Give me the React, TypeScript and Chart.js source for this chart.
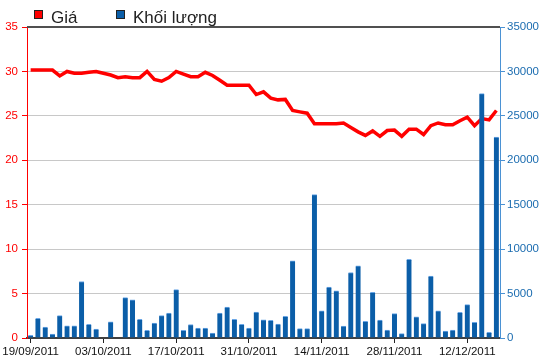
import React, { useEffect, useRef } from "react";
import { Chart, registerables } from "chart.js";

Chart.register(...registerables);

const dates: string[] = [
  "19/09/2011", "20/09/2011", "21/09/2011", "22/09/2011", "23/09/2011",
  "26/09/2011", "27/09/2011", "28/09/2011", "29/09/2011", "30/09/2011",
  "03/10/2011", "04/10/2011", "05/10/2011", "06/10/2011", "07/10/2011",
  "10/10/2011", "11/10/2011", "12/10/2011", "13/10/2011", "14/10/2011",
  "17/10/2011", "18/10/2011", "19/10/2011", "20/10/2011", "21/10/2011",
  "24/10/2011", "25/10/2011", "26/10/2011", "27/10/2011", "28/10/2011",
  "31/10/2011", "01/11/2011", "02/11/2011", "03/11/2011", "04/11/2011",
  "07/11/2011", "08/11/2011", "09/11/2011", "10/11/2011", "11/11/2011",
  "14/11/2011", "15/11/2011", "16/11/2011", "17/11/2011", "18/11/2011",
  "21/11/2011", "22/11/2011", "23/11/2011", "24/11/2011", "25/11/2011",
  "28/11/2011", "29/11/2011", "30/11/2011", "01/12/2011", "02/12/2011",
  "05/12/2011", "06/12/2011", "07/12/2011", "08/12/2011", "09/12/2011",
  "12/12/2011", "13/12/2011", "14/12/2011", "15/12/2011", "16/12/2011",
];

const prices: number[] = [
  30.15, 30.15, 30.15, 30.15, 29.5, 30.0, 29.8, 29.8, 29.9, 30.0,
  29.8, 29.6, 29.3, 29.4, 29.3, 29.3, 30.0, 29.1, 28.9, 29.3,
  30.0, 29.7, 29.4, 29.4, 29.9, 29.55, 29.0, 28.45, 28.45, 28.45,
  28.45, 27.4, 27.7, 27.0, 26.8, 26.85, 25.6, 25.45, 25.3, 24.1,
  24.1, 24.1, 24.1, 24.2, 23.7, 23.2, 22.8, 23.3, 22.7, 23.35,
  23.4, 22.7, 23.5, 23.5, 22.9, 23.9, 24.2, 24.0, 24.0, 24.45,
  24.85, 23.9, 24.7, 24.55, 25.6,
];

const volumes: (number | null)[] = [
  300, 2220, 1220, 440, 2520, 1370, 1370, 6360, 1550, 1000,
  null, 1810, null, 4550, 4290, 2110, 850, 1670, 2520, 2810,
  5440, 850, 1520, 1110, 1110, 560, 2810, 3480, 2110, 1550,
  1110, 2920, 2050, 2000, 1580, 2440, 8690, 1050, 1050, 16130,
  3050, 5720, 5300, 1350, 7370, 8120, 1880, 5150, 2030, 900,
  2750, 490, 8840, 2370, 1620, 6960, 3050, 790, 900, 2900,
  3760, 1770, 27500, 640, 22600,
];

const seriesNames = ["Giá", "Khối lượng"];
const priceMax = 35;
const priceStep = 5;
const volumeMax = 35000;
const volumeStep = 5000;
const labelEvery = 10;

const FONT = "'Liberation Sans', Arial, sans-serif";
const RED = "#ff0000";
const BLUE = "#0b5ea8";

const framePlugin = {
  id: "framePlugin",
  afterDraw(chart: any) {
    const { ctx, chartArea } = chart;
    ctx.save();
    // top border
    ctx.strokeStyle = "#505050";
    ctx.lineWidth = 2;
    ctx.beginPath();
    ctx.moveTo(chartArea.left, chartArea.top);
    ctx.lineTo(chartArea.right, chartArea.top);
    ctx.stroke();
    // legend
    const xs = [34, 116];
    ctx.font = `17px ${FONT}`;
    ctx.textBaseline = "alphabetic";
    ctx.textAlign = "left";
    chart.data.datasets.forEach((ds: any, i: number) => {
      const x = xs[i];
      ctx.fillStyle = ds.legendColor;
      ctx.fillRect(x, 10, 8, 8);
      ctx.strokeStyle = "#222";
      ctx.lineWidth = 1;
      ctx.strokeRect(x + 0.5, 10.5, 8, 8);
      ctx.fillStyle = "#222";
      ctx.fillText(ds.label, x + 17, 23);
    });
    ctx.restore();
  },
};

export default function App() {
  const ref = useRef<HTMLCanvasElement | null>(null);

  useEffect(() => {
    if (!ref.current) return;
    const chart = new Chart(ref.current, {
      type: "bar",
      data: {
        labels: dates,
        datasets: [
          {
            type: "line",
            label: seriesNames[0],
            data: prices,
            borderColor: RED,
            backgroundColor: RED,
            borderWidth: 3.5,
            pointRadius: 0,
            tension: 0,
            yAxisID: "y",
            order: 1,
            legendColor: RED,
          } as any,
          {
            type: "bar",
            label: seriesNames[1],
            data: volumes,
            backgroundColor: BLUE,
            borderColor: "#6aa6e6",
            borderWidth: { top: 1, left: 0, right: 0, bottom: 0 },
            borderSkipped: false,
            barThickness: 5,
            yAxisID: "y1",
            order: 0,
            legendColor: BLUE,
          } as any,
        ],
      },
      options: {
        responsive: false,
        animation: false,
        devicePixelRatio: 1,
        layout: { padding: { top: 27, left: 0, right: 0, bottom: 0 } },
        plugins: {
          legend: { display: false },
          tooltip: { enabled: false },
        },
        scales: {
          x: {
            type: "category",
            offset: true,
            grid: {
              display: true,
              offset: false,
              drawOnChartArea: false,
              tickLength: 5,
              tickColor: "#222",
            },
            border: { display: true, color: "#404040", width: 2 },
            ticks: {
              autoSkip: false,
              maxRotation: 0,
              minRotation: 0,
              padding: 2,
              color: "#111",
              font: { family: FONT, size: 11.5 },
              callback: function (this: any, _v: any, i: number) {
                return i % labelEvery === 0 ? dates[i] : null;
              },
            },
            afterFit: (s: any) => {
              s.height = 26;
              s.paddingLeft = 0;
              s.paddingRight = 0;
            },
          },
          y: {
            position: "left",
            min: 0,
            max: priceMax,
            ticks: {
              stepSize: priceStep,
              color: RED,
              padding: 4,
              font: { family: FONT, size: 11.5 },
            },
            grid: {
              color: "#c8c8c8",
              tickColor: RED,
              tickLength: 5,
              lineWidth: 1,
            },
            border: { display: true, color: RED, width: 1 },
            afterFit: (s: any) => {
              s.width = 27;
            },
          },
          y1: {
            position: "right",
            min: 0,
            max: volumeMax,
            ticks: {
              stepSize: volumeStep,
              color: "#1b6cb0",
              padding: 2,
              font: { family: FONT, size: 11.5 },
              callback: (v: any) => String(v),
            },
            grid: {
              drawOnChartArea: false,
              tickColor: "#4b92d4",
              tickLength: 5,
            },
            border: { display: true, color: "#4b92d4", width: 1 },
            afterFit: (s: any) => {
              s.width = 50;
            },
          },
        },
      } as any,
      plugins: [framePlugin],
    });
    return () => chart.destroy();
  }, []);

  return (
    <div style={{ position: "absolute", left: 0, top: 0, width: 550, height: 364, background: "#fff" }}>
      <canvas ref={ref} width={550} height={364} style={{ display: "block" }} />
    </div>
  );
}
